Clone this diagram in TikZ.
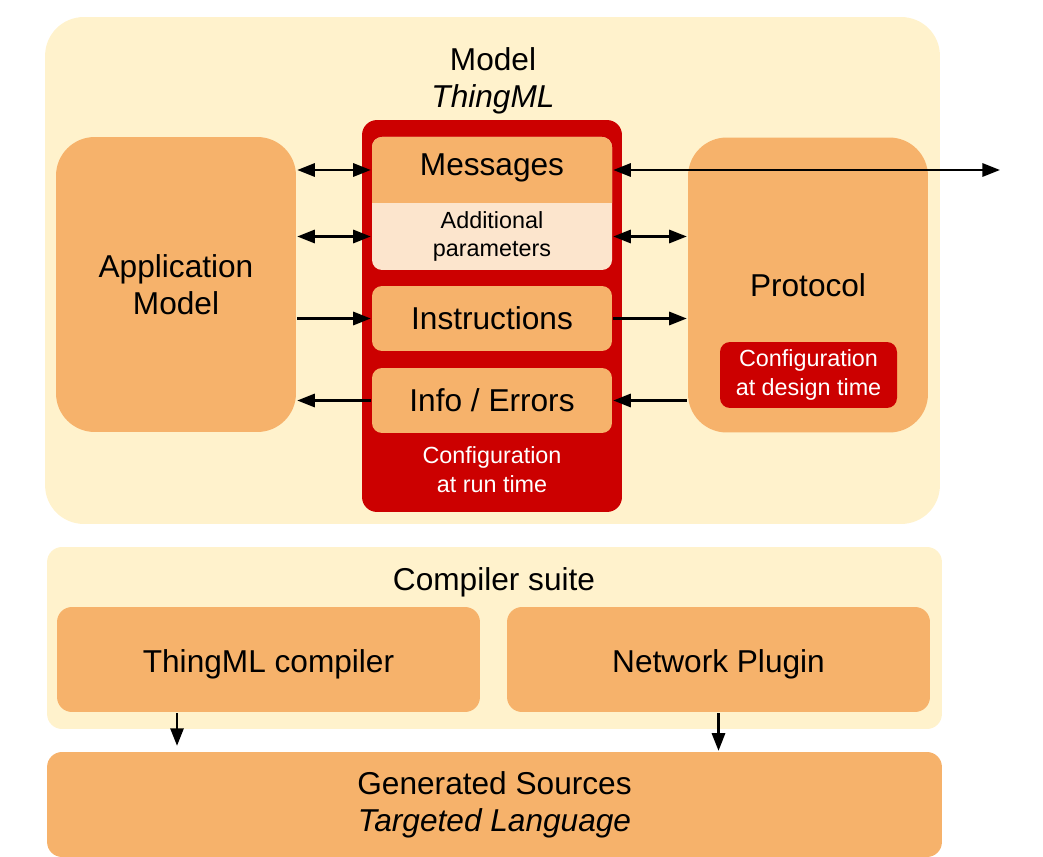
\documentclass[tikz,border=0pt]{standalone}
\usepackage{fontspec}
\setmainfont{Liberation Sans}
\usetikzlibrary{arrows.meta}
\definecolor{bgyellow}{HTML}{FFF2CC}
\definecolor{boxorange}{HTML}{F6B26B}
\definecolor{cfgred}{HTML}{CC0000}
\definecolor{paramfill}{HTML}{FCE5CD}
\tikzset{
  bigtext/.style={font=\fontsize{18}{21}\selectfont},
  smalltext/.style={font=\fontsize{13.3}{16.4}\selectfont},
  area/.style={fill=bgyellow, rounded corners=#1, inner sep=0pt},
  block/.style={fill=boxorange, rounded corners=22pt, minimum width=4.8cm, minimum height=5.9cm, inner sep=0pt, bigtext, align=center},
  part/.style={fill=boxorange, rounded corners=5.7pt, minimum width=4.8cm, minimum height=1.3cm, inner sep=0pt, bigtext},
  tool/.style={fill=boxorange, rounded corners=8.5pt, minimum width=8.46cm, minimum height=2.1cm, inner sep=0pt, bigtext, text height=14.9pt, text depth=0pt},
  cfgbox/.style={fill=cfgred, text=white, smalltext, align=center, inner sep=0pt}
}
\begin{document}
\begin{tikzpicture}[x=0.02cm, y=-0.02cm, >={Triangle[length=10pt,width=7.5pt]}, line width=1.4pt]
\useasboundingbox (0,0) rectangle (1043,857);

% model
\node[area=22pt, minimum width=17.9cm, minimum height=10.14cm] (model) at (492.5,270.5) {};
\node[bigtext, align=center] (modeltitle) at (493,81) {Model\\\textit{ThingML}};

\node[cfgbox, rounded corners=8.5pt, minimum width=5.2cm, minimum height=7.84cm] (runtime) at (492,316) {};
\node[smalltext, text=white, align=center] (runlabel) at (492,470) {Configuration\\at run time};

% messages + parameters
\fill[paramfill, rounded corners=5.7pt] (372,137) rectangle (612,270);
\begin{scope}
\clip (372,137) rectangle (612,203);
\fill[boxorange, rounded corners=5.7pt] (372,137) rectangle (612,270);
\end{scope}
\node[bigtext, minimum width=4.8cm, minimum height=1.32cm, inner sep=0pt, text height=5.9pt, text depth=0pt] (msg) at (492,170) {Messages};
\node[smalltext, align=center, minimum width=4.8cm, minimum height=1.34cm, inner sep=0pt] (params) at (492,236.5) {Additional\\parameters};
\node[part] (instr) at (492,318.5) {Instructions};
\node[part] (info) at (492,400.5) {Info / Errors};

\node[block] (app) at (176,284.5) {Application\\Model};
\node[block] (proto) at (808,285) {Protocol};
\node[cfgbox, rounded corners=5.7pt, minimum width=3.54cm, minimum height=1.32cm] (design) at (808.5,375) {Configuration\\at design time};
\coordinate (net) at (1000,170);

\draw[<->] (app.east |- msg) -- (msg.west);
\draw[<->] (msg.east) -- (net);
\draw[<->] (app.east |- params) -- (params.west);
\draw[<->] (params.east) -- (proto.west |- params);
\draw[->] (app.east |- instr) -- (instr.west);
\draw[->] (instr.east) -- (proto.west |- instr);
\draw[->] (info.west) -- (app.east |- info);
\draw[->] (proto.west |- info) -- (info.east);

% compiler suite
\node[area=8.5pt, minimum width=17.9cm, minimum height=3.64cm] (suite) at (494.5,638) {};
\node[bigtext] (suitelabel) at (494,582) {Compiler suite};
\node[tool] (compiler) at (268.5,659.5) {ThingML compiler};
\node[tool] (plugin) at (718.5,659.5) {Network Plugin};
\node[fill=boxorange, rounded corners=8.5pt, minimum width=17.9cm, minimum height=2.1cm, inner sep=0pt, bigtext, align=center] (gen) at (494.5,804.5) {Generated Sources\\\textit{Targeted Language}};

\draw[->, shorten >=2.8pt] ([xshift=-1.83cm]compiler.south) -- ([xshift=-1.83cm]compiler.south |- gen.north);
\draw[->] (plugin.south) -- (plugin.south |- gen.north);
\end{tikzpicture}
\end{document}
